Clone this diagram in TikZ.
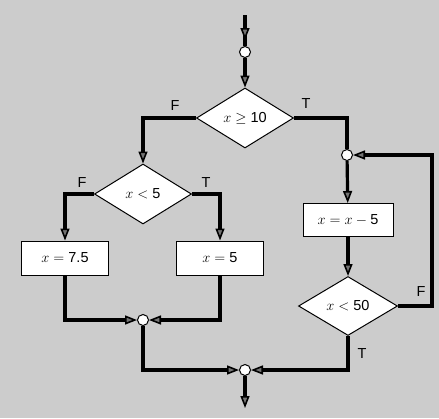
\documentclass[tikz,border=0pt]{standalone}
\usepackage{fontspec}
\setmainfont{Liberation Sans}
\usetikzlibrary{arrows.meta,positioning,shapes.geometric}

\begin{document}
\begin{tikzpicture}[x=1pt,y=-1pt,
    font=\fontsize{14.5}{17}\selectfont,
    flow/.style={line width=3.2pt},
    arr/.style={flow,-{Triangle[length=12pt,width=9pt,line width=1.6pt,fill=black!55]}},
    decision/.style={diamond,draw,fill=white,line width=1pt,inner sep=0pt,
      minimum width=97pt,minimum height=60pt},
    process/.style={rectangle,draw,fill=white,line width=1pt,
      minimum width=87pt,minimum height=34pt},
    junction/.style={circle,draw,fill=white,line width=1pt,inner sep=0pt,minimum size=11pt},
    branch/.style={inner sep=1pt}]
      \fill[black!20] (0,0) rectangle (439,418);
      \useasboundingbox (0,0) rectangle (439,418);

      \coordinate (top) at (245,15);
      \coordinate (topmid) at (245,40);
      \node[junction] (j0) at (245,52) {};
      \node[decision] (d1) at (245,118) {$x\geq{}$10};
      \node[decision] (d2) at (143,194) {$x<{}$5};
      \node[process] (b1) at (65,258) {$x={}$7.5};
      \node[process] (b2) at (220,258) {$x={}$5};
      \node[junction] (j1) at (143,320) {};
      \node[junction] (j2) at (245,370) {};
      \coordinate (end) at (245,408);
      \node[junction] (j3) at (347,155) {};
      \node[process,minimum width=90pt,minimum height=33pt] (b3) at (348,220) {$x=x-{}$5};
      \node[decision,minimum width=99pt,minimum height=59pt] (d3) at (348,306) {$x<{}$50};
      \coordinate (loop) at (432,155);

      \node[branch] (f1) at (175,106) {F};
      \node[branch] (t1) at (306,104) {T};
      \node[branch] (f2) at (82,183) {F};
      \node[branch] (t2) at (206,183) {T};
      \node[branch] (f3) at (421,292) {F};
      \node[branch] (t3) at (362,354) {T};

\draw[flow] (top) -- (j0);
      \draw[arr] (top) -- (topmid);
      \draw[arr] (j0) -- (d1);
      \draw[arr] (d1.west) -| (d2.north);  % false branch
      \draw[flow] (d1.east) -| (j3);  % true branch
      \draw[arr] (d2.west) -| (b1.north);
      \draw[arr] (d2.east) -| (b2.north);
      \draw[arr] (b1.south) |- (j1);
      \draw[arr] (b2.south) |- (j1);
      \draw[arr] (j1) |- (j2);
      \draw[arr] (j3) -- (b3);
      \draw[arr] (b3) -- (d3);
      \draw[arr] (d3.east) -| (loop) -- (j3);  % loop back
      \draw[arr] (d3.south) |- (j2);
      \draw[arr] (j2) -- (end);
    \end{tikzpicture}
\end{document}
